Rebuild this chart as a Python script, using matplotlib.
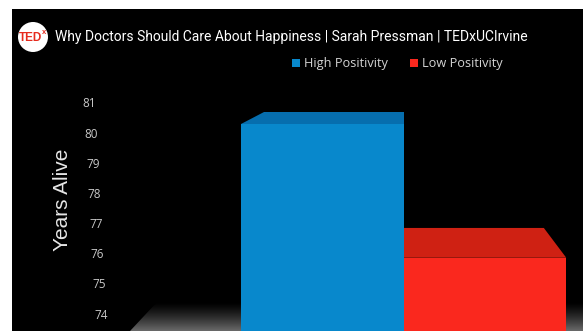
import numpy as np
import matplotlib
matplotlib.use("Agg")
import matplotlib.pyplot as plt
from matplotlib.patches import Polygon, Circle, Rectangle

# ---- data ----
categories = ["High Positivity", "Low Positivity"]
years_alive = [80.35, 75.9]
tick_values = [74, 75, 76, 77, 78, 79, 80, 81]
title = "Why Doctors Should Care About Happiness | Sarah Pressman | TEDxUCIrvine"
ylabel = "Years Alive"

front_colors = ["#0888cc", "#fa281e"]
top_colors = ["#066eae", "#cf2113"]

W, H = 583, 331
fig = plt.figure(figsize=(W / 100, H / 100), dpi=100, facecolor="white")
ax = fig.add_axes([12 / W, 0, (W - 12) / W, (H - 9) / H])
ax.set_facecolor("black")
ax.set_xlim(-1.911, 1.603)
ax.set_ylim(73.47, 84.15)
for s in ax.spines.values():
    s.set_visible(False)
ax.set_xticks([])
ax.set_yticks([])

# floor gradient (decoration)
grad = np.linspace(0, 1, 256).reshape(-1, 1)
floor = Polygon([(0.2067, 0), (0.254, 0.09), (1, 0.09), (1, 0)], closed=True,
                transform=ax.transAxes, facecolor="none", edgecolor="none")
ax.add_patch(floor)
im = ax.imshow((1 - grad) ** 1.3, cmap="gray", vmin=0, vmax=2.4, aspect="auto",
               extent=[0, 1, 0.0, 0.09], transform=ax.transAxes, origin="lower",
               zorder=0.5)
im.set_clip_path(floor)

# bars (front faces)
xpos = np.arange(len(categories))
width = 1.0
ax.bar(xpos, np.array(years_alive) - 70, bottom=70, width=width,
       color=front_colors, zorder=2, linewidth=0)

# top faces in perspective toward a vanishing point
vp = np.array([0.5, 83.06])
k = 0.862
for x, v, c in zip(xpos, years_alive, top_colors):
    fl = np.array([x - width / 2, v])
    fr = np.array([x + width / 2, v])
    bl = vp + (fl - vp) * k
    br = vp + (fr - vp) * k
    ax.add_patch(Polygon([fl, fr, br, bl], closed=True, facecolor=c,
                         edgecolor="none", zorder=1.9))

# tick labels (on the slanted back wall)
for v in tick_values:
    px = 89.5 + (81 - v) * 1.64
    xd = (px - 12) / 162.5 - 1.911
    ax.text(xd, v, str(v), color="#c8c8c8", fontsize=8.5, ha="center",
            va="center", family="Open Sans")

# y label
fig.text(62 / W, 1 - 200 / H, ylabel, rotation=90, color="#e6e6e6",
         fontsize=15, family="Liberation Sans", ha="center", va="center")

# title bar
fig.patches.append(Circle((0.33, (H - 37) / 100), 0.15, transform=fig.dpi_scale_trans,
                          facecolor="white", edgecolor="none"))
fig.text(30.5 / W, 1 - 38 / H, "TED", color="#e62b1e", fontsize=8.5,
         fontweight="bold", ha="center", va="center", family="Liberation Sans")
fig.text(44.5 / W, 1 - 33 / H, "x", color="#e62b1e", fontsize=5.5,
         fontweight="bold", ha="center", va="center", family="Liberation Sans")
fig.text(55 / W, 1 - 37 / H, title, color="white", fontsize=10,
         family="Roboto", ha="left", va="center")

# legend
leg_x = [292, 410]
for lx, c, lab in zip(leg_x, front_colors, categories):
    fig.patches.append(Rectangle((lx / W, 1 - 67 / H), 8 / W, 8 / H,
                                 transform=fig.transFigure, facecolor=c,
                                 edgecolor="none"))
    fig.text((lx + 12) / W, 1 - 63.5 / H, lab, color="#d4d4d4", fontsize=9.2,
             family="Open Sans", ha="left", va="center")

fig.savefig("out.png", dpi=100, facecolor="white")
